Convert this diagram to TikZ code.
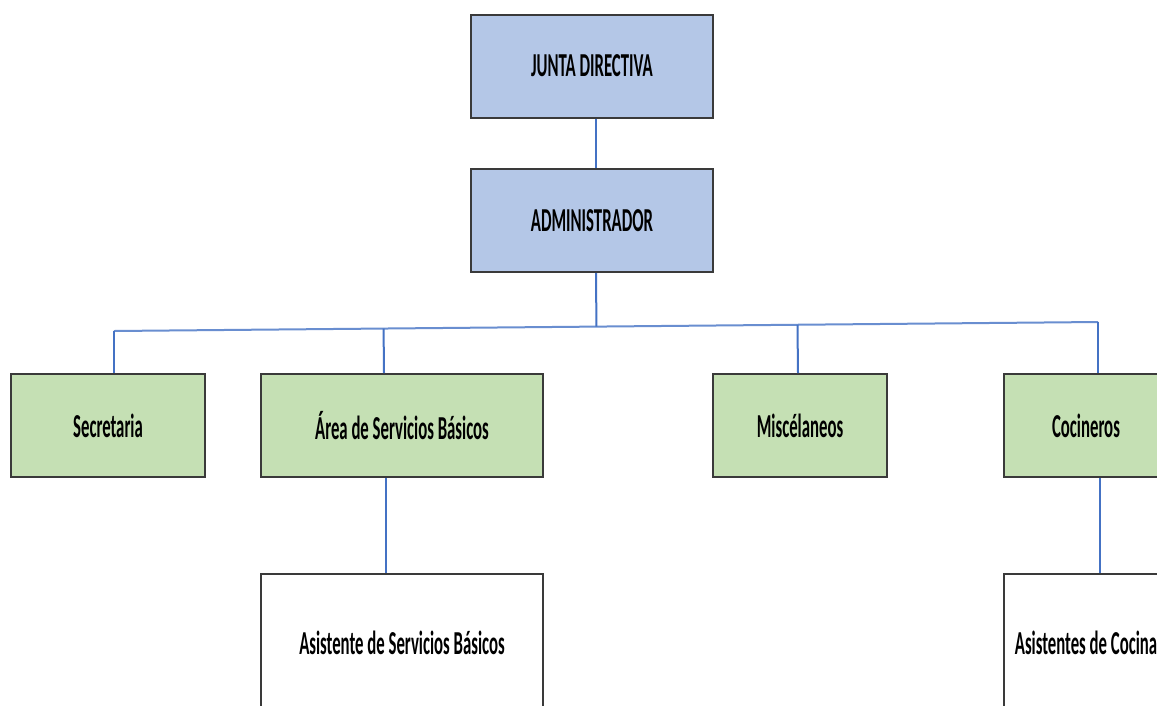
\documentclass[tikz,border=0pt]{standalone}
\usepackage{fontspec}
\setmainfont{Carlito}[FakeStretch=0.5]
\usetikzlibrary{calc}
\definecolor{boxblue}{HTML}{B4C7E7}
\definecolor{boxgreen}{HTML}{C5E0B4}
\definecolor{boxline}{HTML}{3A3A3A}
\definecolor{linkblue}{HTML}{4472C4}
\tikzset{
  orgbox/.style={draw=boxline, line width=2pt, minimum height=103pt,
    inner sep=0pt, font=\fontsize{33.5}{40}\selectfont\bfseries, text=black},
  bluebox/.style={orgbox, fill=boxblue},
  greenbox/.style={orgbox, fill=boxgreen},
  whitebox/.style={orgbox, fill=white, minimum height=138pt},
  link/.style={draw=linkblue, line width=2pt},
  buslink/.style={draw=linkblue!80, line width=2pt},
}
\begin{document}
\begin{tikzpicture}[x=1pt, y=-1pt]
\useasboundingbox (0,0) rectangle (1157,705);
\fill[white] (0,0) rectangle (1157,705);
\clip (0,0) rectangle (1157,705);

% top of the hierarchy
\node[bluebox, minimum width=242pt] (junta) at (592,66) {JUNTA DIRECTIVA};
\node[bluebox, minimum width=242pt] (admin) at (592,220.5) {ADMINISTRADOR};

% second level
\node[greenbox, minimum width=194pt] (sec)  at (108,425.5) {Secretaria};
\node[greenbox, minimum width=282pt] (area) at (402,425.5) {Área de Servicios Básicos};
\node[greenbox, minimum width=174pt] (misc) at (800,425.5) {Miscélaneos};
\node[greenbox, minimum width=164pt] (coc)  at (1086,425.5) {Cocineros};

% third level
\node[whitebox, minimum width=282pt] (asis)  at (402,643) {Asistente de Servicios Básicos};
\node[whitebox, minimum width=164pt] (asisc) at (1086,643) {Asistentes de Cocina};

% distribution bar
\coordinate (busL) at (114,331);
\coordinate (busR) at (1098,322);
\draw[buslink] (busL) -- (busR);

% connectors
\draw[link] ([xshift=4pt]junta.south) -- ([xshift=4pt]admin.north);
\draw[link] ([xshift=4pt]admin.south) -- ($(busL)!([xshift=4pt]admin.south)!(busR)$);
\draw[link] (busL) -- (sec.north -| busL);
\draw[link] ($(busL)!([xshift=-18pt]area.north)!(busR)$) -- ([xshift=-18pt]area.north);
\draw[link] ($(busL)!([xshift=-2pt]misc.north)!(busR)$) -- ([xshift=-2pt]misc.north);
\draw[link] (busR) -- (coc.north -| busR);
\draw[link] ([xshift=-16pt]area.south) -- ([xshift=-16pt]asis.north);
\draw[link] ([xshift=14pt]coc.south) -- ([xshift=14pt]asisc.north);
\end{tikzpicture}
\end{document}
